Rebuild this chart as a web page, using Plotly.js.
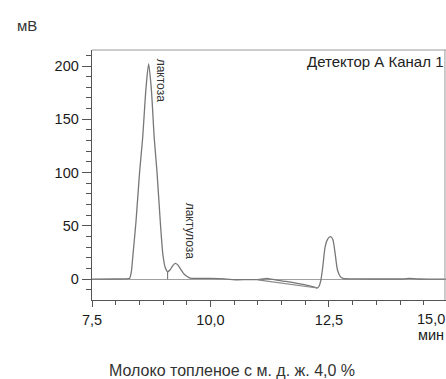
<!DOCTYPE html>
<html>
<head>
<meta charset="utf-8">
<script src="https://cdn.plot.ly/plotly-3.0.1.min.js"></script>
<style>
html,body{margin:0;padding:0;background:#fff;}
#chart{width:446px;height:379px;}
</style>
</head>
<body>
<div id="chart"></div>
<script>
// Chromatogram signal (time, min ; signal, mV)
var timeMin = [7.5, 8.0, 8.2, 8.27, 8.294, 8.33, 8.364, 8.428, 8.505, 8.568, 8.639, 8.695, 8.751, 8.814, 8.871, 8.941, 8.997, 9.046, 9.095, 9.15, 9.2, 9.257, 9.31, 9.37, 9.43, 9.5, 9.57, 9.7, 10.0, 10.3, 10.52, 10.8, 11.0, 11.1, 11.19, 11.28, 11.4, 11.6, 11.8, 12.0, 12.1, 12.2, 12.25, 12.29, 12.33, 12.37, 12.42, 12.47, 12.53, 12.58, 12.63, 12.68, 12.74, 12.8, 13.0, 13.5, 14.0, 14.1, 14.2, 14.3, 14.4, 14.6, 14.97];
var signalMV = [0.2, 0.3, 0.4, 0.6, 1, 7, 22.8, 54, 101, 132, 179, 202, 179, 132, 101, 54, 22.8, 11, 7.1, 9, 12.5, 15, 13.5, 9.5, 5.6, 2.8, 1.2, 0.9, 0.8, 0.4, -0.4, -0.3, -0.3, 0.3, 0.9, 0.2, -0.8, -2.0, -3.6, -5.2, -6.2, -7.3, -8.2, -6.5, -0.7, 11.8, 30.6, 37.5, 40, 37.5, 24.4, 8.7, 2.5, 0.8, 0.4, 0.3, 0.3, 0.5, 0.8, 0.6, 0.3, 0.2, 0.2];

// Peak separation drop line (lactose / lactulose valley)
var dropTime = [9.095, 9.095];
var dropMV = [0, 7.1];

// Integration baseline under the drift region
var baseTime = [11.0, 12.25];
var baseMV = [-0.5, -8.2];

// Peak labels
var peakNames = ["лактоза", "лактулоза"];
var peakLabelTime = [8.96, 9.56];
var peakLabelMV = [187, 45];

var yTickVals = [0, 50, 100, 150, 200];
var xTickVals = [7.5, 10.0, 12.5];

var traces = [
  {x: timeMin, y: signalMV, type: 'scatter', mode: 'lines',
   line: {color: '#777777', width: 1.3, shape: 'spline', smoothing: 0.7}, hoverinfo: 'skip'},
  {x: dropTime, y: dropMV, type: 'scatter', mode: 'lines',
   line: {color: '#777777', width: 1.1}, hoverinfo: 'skip'},
  {x: baseTime, y: baseMV, type: 'scatter', mode: 'lines',
   line: {color: '#888888', width: 1.1}, hoverinfo: 'skip'}
];

var FONT = 'Liberation Sans, Arial, sans-serif';
var annotations = [];
for (var i = 0; i < peakNames.length; i++) {
  annotations.push({x: peakLabelTime[i], y: peakLabelMV[i], xref: 'x', yref: 'y',
    xanchor: 'center', yanchor: 'middle',
    text: peakNames[i], textangle: 90, showarrow: false,
    font: {family: FONT, size: 12, color: '#333'}});
}
function paperText(px, py, txt, size, color, xa) {
  return {xref: 'paper', yref: 'paper', x: (px - 92) / 354, y: (300 - py) / 250,
    xanchor: xa || 'center', yanchor: 'middle', text: txt, showarrow: false,
    font: {family: FONT, size: size, color: color}};
}
annotations.push(
  paperText(27, 26, 'мВ', 15, '#333'),
  paperText(445, 61.5, 'Детектор А Канал 1', 15, '#222', 'right'),
  paperText(431, 319, '15,0', 14.5, '#1a1a1a'),
  paperText(431, 335, 'мин', 14.5, '#1a1a1a'),
  paperText(232, 370, 'Молоко топленое с м. д. ж. 4,0 %', 16, '#333')
);

var layout = {
  width: 446, height: 379,
  margin: {l: 92, r: 0, t: 50, b: 79, pad: 0},
  paper_bgcolor: '#fff', plot_bgcolor: '#fff',
  showlegend: false,
  separators: ', ',
  font: {family: FONT, size: 14, color: '#1a1a1a'},
  xaxis: {
    range: [7.5, 14.97], showgrid: false, zeroline: false,
    showline: true, linecolor: '#555', linewidth: 1.3,
    tickmode: 'array', tickvals: xTickVals, tickformat: '.1f',
    ticks: 'outside', ticklen: 6, tickcolor: '#555', tickwidth: 1,
    ticklabelstandoff: 0,
    tickfont: {family: FONT, size: 14.5, color: '#1a1a1a'},
    minor: {dtick: 0.5, tick0: 7.5, ticks: 'outside', ticklen: 4, tickcolor: '#555', showgrid: false}
  },
  yaxis: {
    range: [-19.4, 215], showgrid: false,
    zeroline: true, zerolinecolor: '#a0a0a0', zerolinewidth: 1,
    showline: true, linecolor: '#555', linewidth: 1.3,
    tickmode: 'array', tickvals: yTickVals, tickformat: 'd',
    ticks: 'outside', ticklen: 9, tickcolor: '#555', tickwidth: 1,
    tickfont: {family: FONT, size: 14.5, color: '#1a1a1a'},
    minor: {dtick: 10, tick0: 0, ticks: 'outside', ticklen: 5, tickcolor: '#555', showgrid: false}
  },
  shapes: [
    {type: 'line', xref: 'paper', yref: 'paper', x0: 0, x1: 1, y0: 1, y1: 1, line: {color: '#9a9a9a', width: 1}},
    {type: 'line', xref: 'paper', yref: 'paper', x0: 0.997, x1: 0.997, y0: 0, y1: 1, line: {color: '#9a9a9a', width: 1}}
  ],
  annotations: annotations
};

Plotly.newPlot('chart', traces, layout, {staticPlot: true, displayModeBar: false});
</script>
</body>
</html>
